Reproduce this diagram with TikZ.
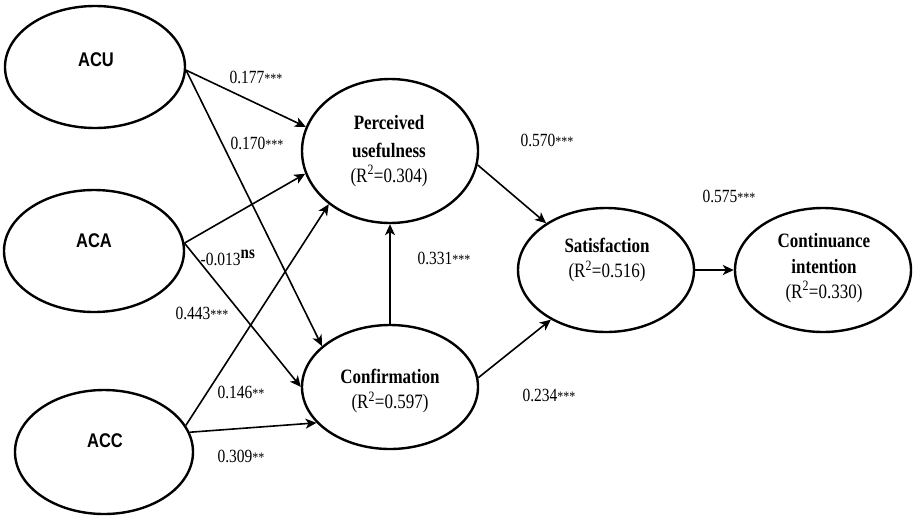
\documentclass[tikz,border=0pt]{standalone}
\usepackage{fontspec}
\usepackage{graphicx}
\setmainfont{Liberation Serif}
\newfontfamily\arialfont{Liberation Sans}
\usetikzlibrary{shapes.geometric,arrows.meta}
\newcommand{\vstr}[1]{\scalebox{1}[1.2]{#1}}
\newcommand{\stars}[1]{{\fontsize{12}{12}\selectfont #1}}
\begin{document}
\begin{tikzpicture}[x=1pt,y=-1pt,
  latent/.style={draw,ellipse,line width=2.4pt,inner sep=0pt},
  arr/.style={line width=1.6pt,-{Stealth[length=11pt,width=10pt,inset=3pt]}},
  coef/.style={font=\fontsize{15.5}{15.5}\selectfont,inner sep=0pt},
  ctext/.style={font=\fontsize{17}{21}\selectfont,inner sep=0pt},
  stext/.style={font=\arialfont\bfseries\fontsize{16.5}{18}\selectfont,inner sep=0pt}]
\useasboundingbox (0,0) rectangle (915,517);
% latent variables
\node[latent,minimum width=180pt,minimum height=122pt] (acu) at (95,67) {};
\node[latent,minimum width=180pt,minimum height=122pt] (aca) at (94,251) {};
\node[latent,minimum width=178pt,minimum height=124pt] (acc) at (104,452) {};
\node[latent,minimum width=176pt,minimum height=144pt] (pu) at (390,151) {};
\node[latent,minimum width=176pt,minimum height=124pt] (conf) at (390,387) {};
\node[latent,minimum width=176pt,minimum height=124pt] (sat) at (606,270) {};
\node[latent,minimum width=176pt,minimum height=124pt] (cont) at (823,270) {};
% texts
\node[stext] (acut) at (96,60) {\vstr{ACU}};
\node[stext] (acat) at (94,241) {\vstr{ACA}};
\node[stext] (acct) at (105,441) {\vstr{ACC}};
\node[ctext] (put) at (389,151) {\vstr{\begin{tabular}{@{}c@{}}\textbf{Perceived}\\[2pt]\textbf{usefulness}\\(R\textsuperscript{2}=0.304)\end{tabular}}};
\node[ctext] (conft) at (390,391) {\vstr{\begin{tabular}{@{}c@{}}\textbf{Confirmation}\\(R\textsuperscript{2}=0.597)\end{tabular}}};
\node[ctext] (satt) at (607,260) {\vstr{\begin{tabular}{@{}c@{}}\textbf{Satisfaction}\\(R\textsuperscript{2}=0.516)\end{tabular}}};
\node[ctext] (contt) at (824,268) {\vstr{\begin{tabular}{@{}c@{}}\textbf{Continuance}\\\textbf{intention}\\(R\textsuperscript{2}=0.330)\end{tabular}}};
% paths
\draw[arr] (acu.-2) -- (pu.164);
\draw[arr] (acu.-2) -- (conf.149);
\draw[arr] (aca.5) -- (pu.195);
\draw[arr] (aca.5) -- (conf.180);
\draw[arr] (acc.18) -- (pu.221);
\draw[arr] (acc.13) -- (conf.206);
\draw[arr,line width=1.3pt] (conf.north) -- (pu.south);
\draw[arr] (pu.-9) -- (sat.142);
\draw[arr] (conf.6) -- (sat.222);
\draw[arr,line width=2.2pt] (sat.east) -- (cont.west);
% coefficients
\node[coef] (c1) at (256,77) {\vstr{0.177\stars{***}}};
\node[coef] (c2) at (257,143) {\vstr{0.170\stars{***}}};
\node[coef] (c3) at (228,258) {\vstr{-0.013\textsuperscript{\textbf{\fontsize{15}{15}\selectfont ns}}}};
\node[coef] (c4) at (202,313) {\vstr{0.443\stars{***}}};
\node[coef] (c5) at (241,392) {\vstr{0.146\stars{**}}};
\node[coef] (c6) at (241,456) {\vstr{0.309\stars{**}}};
\node[coef] (c7) at (444,258) {\vstr{0.331\stars{***}}};
\node[coef] (c8) at (547,140) {\vstr{0.570\stars{***}}};
\node[coef] (c9) at (549,395) {\vstr{0.234\stars{***}}};
\node[coef] (c10) at (729,196) {\vstr{0.575\stars{***}}};
\end{tikzpicture}
\end{document}
